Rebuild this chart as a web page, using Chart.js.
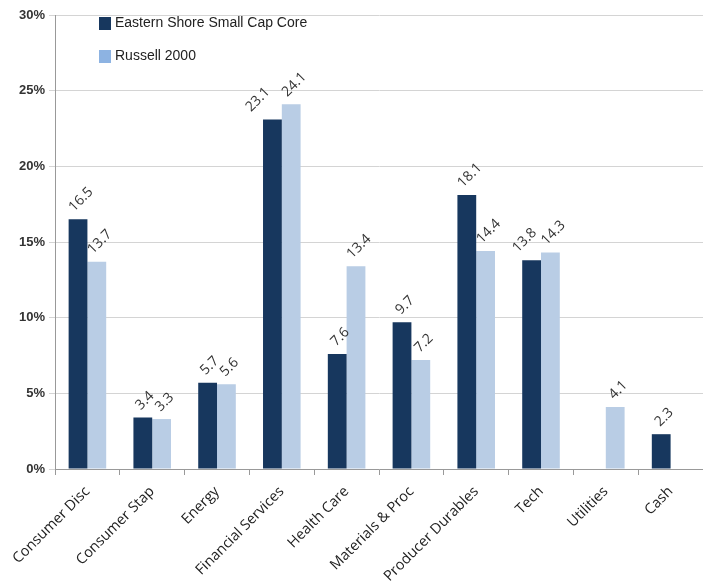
<!DOCTYPE html>
<html lang="en">
<head>
    <meta charset="UTF-8">
    <title>Sector Weights</title>
    <style>
        body { margin: 0; background: #fff; }
        .chart-box { width: 703px; height: 582px; }
    </style>
    <script src="https://cdn.jsdelivr.net/npm/chart.js"></script>
</head>
<body>
    <div class="chart-box">
        <canvas id="sectorChart"></canvas>
    </div>
    <script>
        const sectors = ['Consumer Disc', 'Consumer Stap', 'Energy', 'Financial Services', 'Health Care',
            'Materials & Proc', 'Producer Durables', 'Tech', 'Utilities', 'Cash'];
        const easternShore = [16.5, 3.4, 5.7, 23.1, 7.6, 9.7, 18.1, 13.8, null, 2.3];
        const russell2000 = [13.7, 3.3, 5.6, 24.1, 13.4, 7.2, 14.4, 14.3, 4.1, null];
        const seriesNames = ['Eastern Shore Small Cap Core', 'Russell 2000'];

        // value labels, tilted 45deg; dark label slides left when it would run into the light one
        const barLabels = {
            id: 'barLabels',
            afterDatasetsDraw(chart) {
                const ctx = chart.ctx;
                const lineH = 14;
                const minGap = 15;
                ctx.save();
                ctx.font = '14px "Open Sans", sans-serif';
                ctx.fillStyle = '#333';
                ctx.textAlign = 'center';
                ctx.textBaseline = 'middle';

                const spots = chart.data.datasets.map((ds, i) =>
                    chart.getDatasetMeta(i).data.map((bar, j) => {
                        const v = ds.data[j];
                        if (v == null) return null;
                        const txt = v.toFixed(1);
                        const half = (ctx.measureText(txt).width + lineH) * 0.3536;
                        return { txt, x: bar.x + 3, y: bar.y - 5 - half };
                    })
                );

                sectors.forEach((_, j) => {
                    const a = spots[0][j], b = spots[1][j];
                    if (!a || !b) return;
                    const d = ((b.x - a.x) + (b.y - a.y)) / Math.SQRT2;
                    if (Math.abs(d) < minGap) a.x -= (minGap - d) * Math.SQRT2;
                });

                spots.flat().forEach(s => {
                    if (!s) return;
                    ctx.save();
                    ctx.translate(s.x, s.y);
                    ctx.rotate(-Math.PI / 4);
                    ctx.fillText(s.txt, 0, 0);
                    ctx.restore();
                });
                ctx.restore();
            }
        };

        // legend sits inside the plot at top left
        const insideLegend = {
            id: 'insideLegend',
            afterDraw(chart) {
                const ctx = chart.ctx;
                const legendColors = ['#17375e', '#8db3e2'];
                ctx.save();
                ctx.font = '14px "Liberation Sans", Arial, sans-serif';
                ctx.textBaseline = 'middle';
                ctx.textAlign = 'left';
                chart.data.datasets.forEach((ds, i) => {
                    const y = 23 + i * 33;
                    ctx.fillStyle = legendColors[i];
                    ctx.fillRect(99, y - 6, 12, 13);
                    ctx.fillStyle = '#222';
                    ctx.fillText(ds.label, 115, y);
                });
                ctx.restore();
            }
        };

        new Chart(document.getElementById('sectorChart'), {
            type: 'bar',
            data: {
                labels: sectors,
                datasets: [
                    { label: seriesNames[0], data: easternShore, backgroundColor: '#17375e' },
                    { label: seriesNames[1], data: russell2000, backgroundColor: '#b9cde5' }
                ]
            },
            options: {
                responsive: true,
                maintainAspectRatio: false,
                animation: false,
                layout: { padding: { top: 15, right: 0, left: 15, bottom: 0 } },
                datasets: { bar: { categoryPercentage: 0.58, barPercentage: 1.0 } },
                plugins: {
                    legend: { display: false },
                    tooltip: { enabled: false }
                },
                scales: {
                    x: {
                        afterFit: scale => { scale.height = 113; },
                        grid: { display: true, drawOnChartArea: false, offset: true, color: '#999', tickLength: 6 },
                        border: { color: '#999' },
                        ticks: {
                            color: '#222',
                            font: { family: '"Open Sans", sans-serif', size: 14.5 },
                            maxRotation: 45,
                            minRotation: 45,
                            padding: 8
                        }
                    },
                    y: {
                        min: 0,
                        max: 30,
                        grid: { color: '#d4d4d4', tickLength: 6 },
                        border: { color: '#999' },
                        ticks: {
                            stepSize: 5,
                            color: '#333',
                            font: { family: '"Liberation Sans", Arial, sans-serif', size: 13, weight: 'bold' },
                            padding: 4,
                            callback: v => v + '%'
                        }
                    }
                }
            },
            plugins: [barLabels, insideLegend]
        });
    </script>
</body>
</html>
